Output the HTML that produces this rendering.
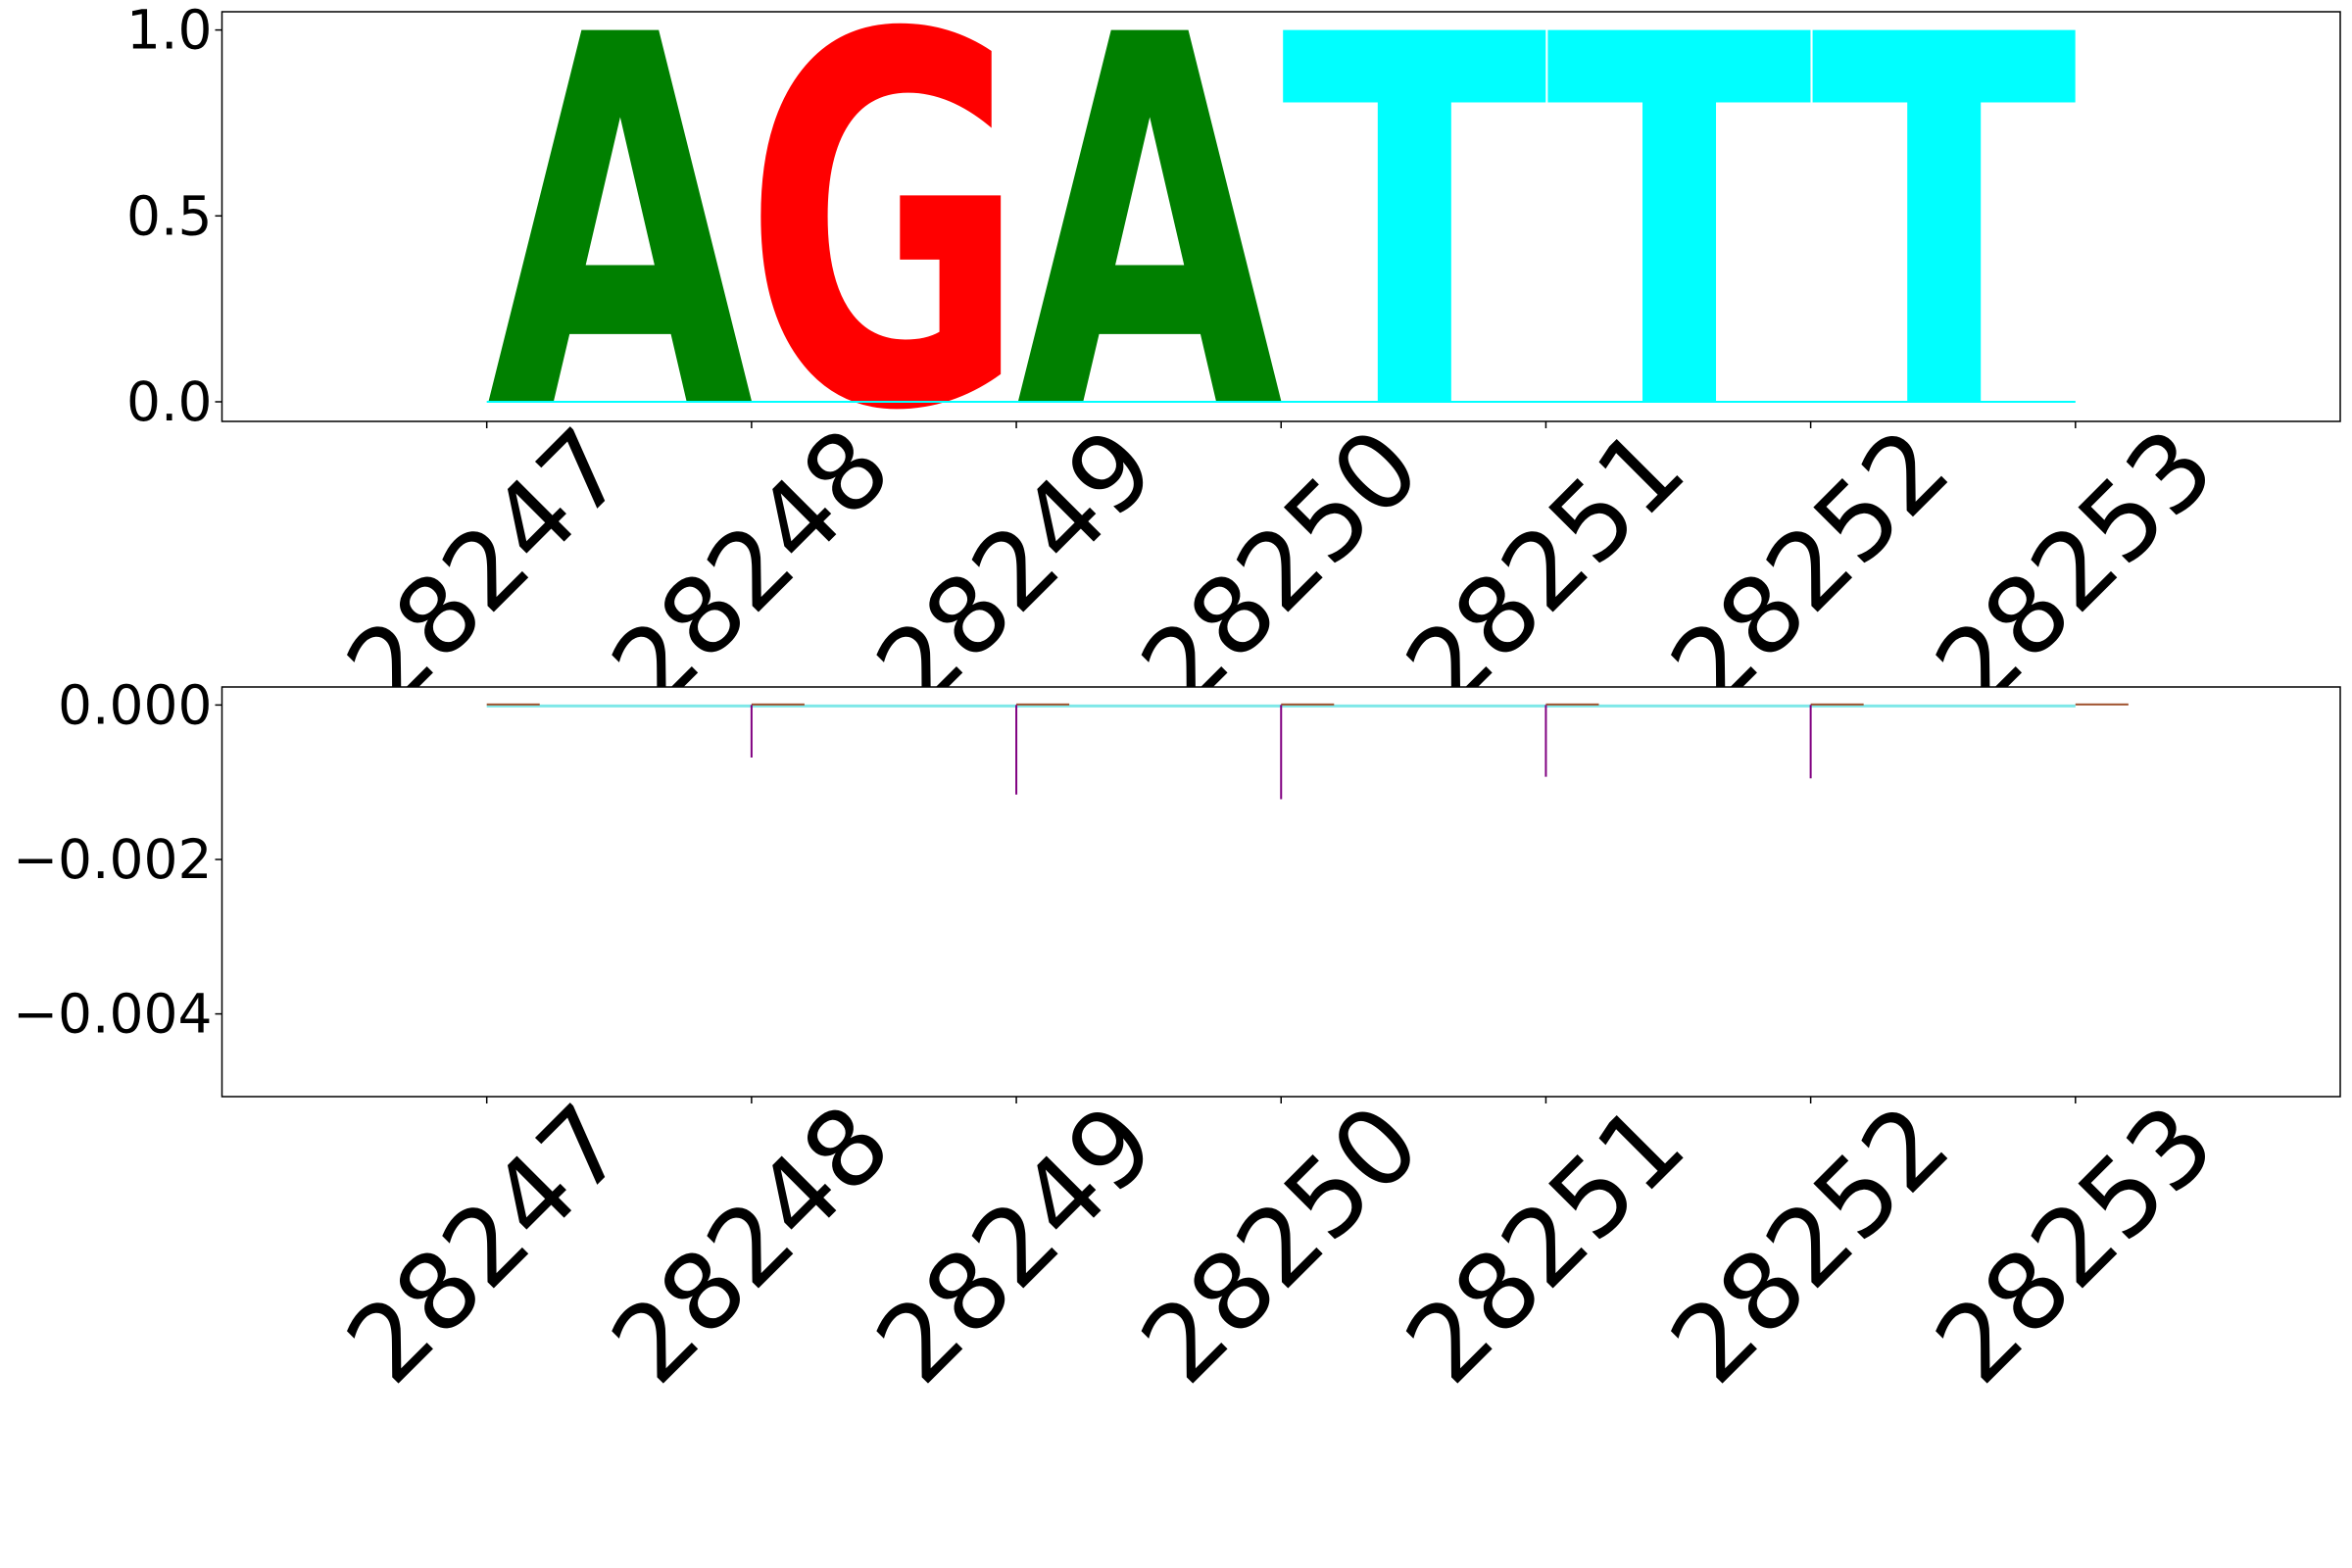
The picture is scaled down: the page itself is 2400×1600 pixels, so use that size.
<!DOCTYPE html>
<html><head><meta charset="utf-8"><style>
html,body{margin:0;padding:0;background:#fff;}
svg{display:block;font-family:"DejaVu Sans","Liberation Sans",sans-serif;}
</style></head><body>
<svg id="chart" width="2400" height="1600" viewBox="0 0 2400 1600" xmlns="http://www.w3.org/2000/svg">
<rect width="2400" height="1600" fill="#fff"/>
<g id="top"></g>
<g id="bottom"></g>
</svg>
<script>
const positions = [28247, 28248, 28249, 28250, 28251, 28252, 28253];
const letters = ['A', 'G', 'A', 'T', 'T', 'T'];
const letterHeights = [1.0, 1.0, 1.0, 1.0, 1.0, 1.0];
const letterColors = ['#008000', '#ff0000', '#008000', '#00ffff', '#00ffff', '#00ffff'];
const topTicks = [0.0, 0.5, 1.0];
const topTickLabels = ['0.0', '0.5', '1.0'];
const bottomTicks = [0.0, -0.002, -0.004];
const bottomTickLabels = ['0.000', '\u22120.002', '\u22120.004'];
const purpleValues = [0, -0.00068, -0.00116, -0.00122, -0.00093, -0.00095, 0];
const smallBarValues = [0.00002, 0.00002, 0.00002, 0.00002, 0.00002, 0.00002, 0.00002];

const NS = 'http://www.w3.org/2000/svg';
function mk(tag, attrs, parent) {
  const e = document.createElementNS(NS, tag);
  for (const k in attrs) e.setAttribute(k, attrs[k]);
  parent.appendChild(e);
  return e;
}
const L = 226.5, R = 2388;
const xMin = 28246, xMax = 28254;
function x(v) { return L + (v - xMin) / (xMax - xMin) * (R - L); }

const topG = document.getElementById('top');
const tT = 12, tB = 430, tY0 = 410, tY1 = 30.6;
function yT(v) { return tY0 + (tY1 - tY0) * v; }
const botG = document.getElementById('bottom');
const bT = 701, bB = 1119;
function yB(v) { return 719.4 + (877 - 719.4) * (v / -0.002); }

for (let i = 0; i < letters.length; i++) {
  const x0 = x(positions[i]), w = x(positions[i] + 1) - x0;
  const h = yT(0) - yT(letterHeights[i]);
  const fs = 100, cap = 72.9;
  const isG = letters[i] === 'G';
  const g = mk('g', {transform: `translate(${x0 - (isG ? 8 : 0)},${yT(0)}) scale(1,${h / cap})`}, topG);
  
  
  const t = mk('text', {x: 0, y: 0, 'font-size': fs, 'font-weight': 'bold', fill: letterColors[i],
    textLength: w + (isG ? 18 : 2), lengthAdjust: 'spacingAndGlyphs', 'font-family': '"DejaVu Sans",sans-serif'}, g);
  t.textContent = letters[i];
}
const cl = mk('line', {x1: x(28247), x2: x(28253), y1: yT(0), y2: yT(0), stroke: '#00ffff', 'stroke-width': 2}, topG);



const tf = mk('rect', {x: L, y: tT, width: R - L, height: tB - tT, fill: 'none', stroke: '#000', 'stroke-width': 1.5}, topG);


for (let i = 0; i < topTicks.length; i++) {
  const y = yT(topTicks[i]);
  mk('line', {x1: L - 7, x2: L, y1: y, y2: y, stroke: '#000', 'stroke-width': 1.5}, topG);
  const t = mk('text', {x: L - 10, y: y, 'font-size': 55, 'text-anchor': 'end', 'dominant-baseline': 'central'}, topG);
  
  
  t.textContent = topTickLabels[i];
}

function xLabels(g, axisBottom, centerY, prefix) {
  for (let i = 0; i < positions.length; i++) {
    const px = x(positions[i]);
    mk('line', {x1: px, x2: px, y1: axisBottom, y2: axisBottom + 7, stroke: '#000', 'stroke-width': 1.5}, g);
    const t = mk('text', {x: 0, y: 0, 'font-size': 108, 'text-anchor': 'middle', 'dominant-baseline': 'central',
      transform: `translate(${px},${centerY}) rotate(-45)`}, g);
    
    
    t.textContent = String(positions[i]);
  }
}
xLabels(topG, tB, 580, 'logo');

mk('rect', {x: L, y: bT, width: R - L, height: bB - bT, fill: '#fff'}, botG);
const cl2 = mk('line', {x1: x(28247), x2: x(28253), y1: yB(0) + 1, y2: yB(0) + 1, stroke: '#7fe8e8', 'stroke-width': 3}, botG);


for (let i = 0; i < positions.length; i++) {
  const px = x(positions[i]);
  const b = mk('rect', {x: px, y: yB(smallBarValues[i]), width: x(positions[i] + 0.2) - px, height: 2, fill: '#a0522d'}, botG);
  
  
  if (purpleValues[i] !== 0) {
    const ln = mk('line', {x1: px, x2: px, y1: yB(0), y2: yB(purpleValues[i]), stroke: '#800080', 'stroke-width': 2}, botG);
    
    
  }
}
const bf = mk('rect', {x: L, y: bT, width: R - L, height: bB - bT, fill: 'none', stroke: '#000', 'stroke-width': 1.5}, botG);


for (let i = 0; i < bottomTicks.length; i++) {
  const y = yB(bottomTicks[i]);
  mk('line', {x1: L - 7, x2: L, y1: y, y2: y, stroke: '#000', 'stroke-width': 1.5}, botG);
  const t = mk('text', {x: L - 10, y: y, 'font-size': 55, 'text-anchor': 'end', 'dominant-baseline': 'central'}, botG);
  
  
  t.textContent = bottomTickLabels[i];
}
xLabels(botG, bB, 1270, 'attribution');
</script>
</body></html>
